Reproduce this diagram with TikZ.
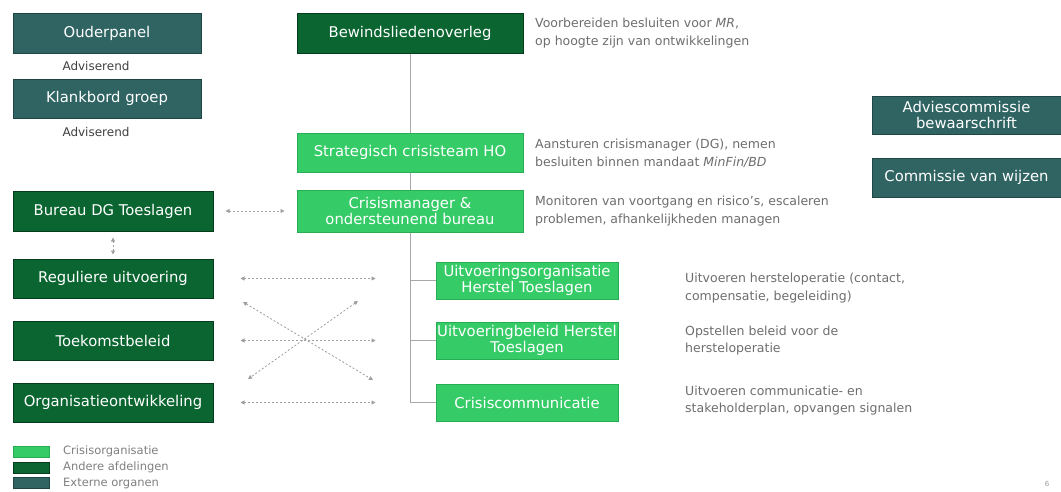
\documentclass[tikz,border=0pt]{standalone}
\usepackage{fontspec}
\setmainfont{DejaVu Sans}
\usetikzlibrary{arrows.meta}

\definecolor{extfill}{HTML}{2F6462}
\definecolor{extline}{HTML}{1E4645}
\definecolor{deptfill}{HTML}{0B6531}
\definecolor{deptline}{HTML}{053C1C}
\definecolor{crisfill}{HTML}{35CB67}
\definecolor{crisline}{HTML}{27AE55}
\definecolor{desccol}{HTML}{6E6E6E}
\definecolor{linecol}{HTML}{A8A8A8}
\definecolor{arrowcol}{HTML}{A0A0A0}

\begin{document}
\begin{tikzpicture}[x=1pt,y=-1pt,
  box/.style={draw, rectangle, text=white, align=center, inner sep=0pt,
    line width=1pt, font=\fontsize{14.8}{16.5}\selectfont},
  ext/.style={box, fill=extfill, draw=extline},
  dept/.style={box, fill=deptfill, draw=deptline},
  crisis/.style={box, fill=crisfill, draw=crisline},
  desc/.style={anchor=west, align=left, text=desccol, inner sep=0pt,
    font=\fontsize{12.5}{17.5}\selectfont},
  adv/.style={text=black!75, inner sep=0pt, font=\fontsize{12}{14}\selectfont},
  link/.style={draw=linecol, line width=0.9pt},
  dart/.style={draw=arrowcol, line width=0.8pt, dash pattern=on 2pt off 2pt,
    {Triangle[length=4pt,width=4pt]}-{Triangle[length=4pt,width=4pt]}},
  legbox/.style={rectangle, draw, line width=1pt, minimum width=36pt,
    minimum height=11pt, inner sep=0pt},
  legtext/.style={anchor=west, text=black!50, inner sep=0pt,
    font=\fontsize{11.5}{13}\selectfont}
]
\useasboundingbox[fill=white] (0,0) rectangle (1061,491);

% external bodies (left top)
\node[ext, minimum width=188pt, minimum height=40pt] (ouder) at (107,33) {Ouderpanel};
\node[adv] (adv1) at (96,66) {Adviserend};
\node[ext, minimum width=188pt, minimum height=39pt] (klank) at (107,98.5) {Klankbord groep};
\node[adv] (adv2) at (96,132) {Adviserend};

% external bodies (right)
\node[ext, minimum width=189pt, minimum height=38pt] (advies) at (966.5,115) {Adviescommissie\\bewaarschrift};
\node[ext, minimum width=189pt, minimum height=39pt] (wijzen) at (966.5,177.5) {Commissie van wijzen};

% central hierarchy
\node[dept, minimum width=226pt, minimum height=40pt] (bew) at (410,33) {Bewindsliedenoverleg};
\node[crisis, minimum width=226pt, minimum height=39pt] (strat) at (410,152.5) {Strategisch crisisteam HO};
\node[crisis, minimum width=226pt, minimum height=42pt] (cm) at (410,211) {Crisismanager \&\\ondersteunend bureau};

\node[crisis, minimum width=182pt, minimum height=37pt] (uo) at (527,280.5) {Uitvoeringsorganisatie\\Herstel Toeslagen};
\node[crisis, minimum width=182pt, minimum height=37pt] (ub) at (527,340.5) {Uitvoeringbeleid Herstel\\Toeslagen};
\node[crisis, minimum width=182pt, minimum height=37pt] (comm) at (527,402.5) {Crisiscommunicatie};

% other departments (left)
\node[dept, minimum width=200pt, minimum height=40pt] (bureau) at (113,211) {Bureau DG Toeslagen};
\node[dept, minimum width=200pt, minimum height=39pt] (reg) at (113,278.5) {Reguliere uitvoering};
\node[dept, minimum width=200pt, minimum height=39pt] (toek) at (113,340.5) {Toekomstbeleid};
\node[dept, minimum width=200pt, minimum height=39pt] (org) at (113,402.5) {Organisatieontwikkeling};

% descriptions
\node[desc] (d1) at (535,33) {Voorbereiden besluiten voor \textit{MR},\\op hoogte zijn van ontwikkelingen};
\node[desc] (d2) at (535,153.5) {Aansturen crisismanager (DG), nemen\\besluiten binnen mandaat \textit{MinFin/BD}};
\node[desc] (d3) at (535,211) {Monitoren van voortgang en risico's, escaleren\\problemen, afhankelijkheden managen};
\node[desc] (d4) at (685,288) {Uitvoeren hersteloperatie (contact,\\compensatie, begeleiding)};
\node[desc] (d5) at (685,340.5) {Opstellen beleid voor de\\hersteloperatie};
\node[desc] (d6) at (685,400.5) {Uitvoeren communicatie- en\\stakeholderplan, opvangen signalen};

% hierarchy lines
\draw[link] (bew) -- (strat);
\draw[link] (strat) -- (cm);
\draw[link] (cm.south) |- (uo.west);
\draw[link] (cm.south) |- (ub.west);
\draw[link] (cm.south) |- (comm.west);

% dotted relations
\draw[dart, shorten <=12pt, shorten >=12pt] (bureau) -- (cm);
\draw[dart, shorten <=6pt, shorten >=4pt] (bureau.south) -- (reg.north);
\draw[dart, shorten <=27pt, shorten >=60pt] (reg.east) -- (reg.east -| uo.west);
\draw[dart, shorten <=27pt, shorten >=60pt] (toek.east) -- (toek.east -| ub.west);
\draw[dart, shorten <=27pt, shorten >=60pt] (org.east) -- (org.east -| comm.west);
\coordinate (xa1) at (243,302);
\coordinate (xa2) at (373,380);
\coordinate (xb1) at (358,301);
\coordinate (xb2) at (248,379);
\draw[dart] (xa1) -- (xa2);
\draw[dart] (xb1) -- (xb2);

% legend
\node[legbox, fill=crisfill, draw=crisline] (lg1) at (31,451.5) {};
\node[legtext] (lt1) at (63,451.5) {Crisisorganisatie};
\node[legbox, fill=deptfill, draw=deptline] (lg2) at (31,467.5) {};
\node[legtext] (lt2) at (63,467.5) {Andere afdelingen};
\node[legbox, fill=extfill, draw=extline] (lg3) at (31,483) {};
\node[legtext] (lt3) at (63,483) {Externe organen};

% page number
\node[text=black!40, inner sep=0pt, font=\fontsize{7}{8}\selectfont] (pnum) at (1047,484) {6};
\end{tikzpicture}
\end{document}
